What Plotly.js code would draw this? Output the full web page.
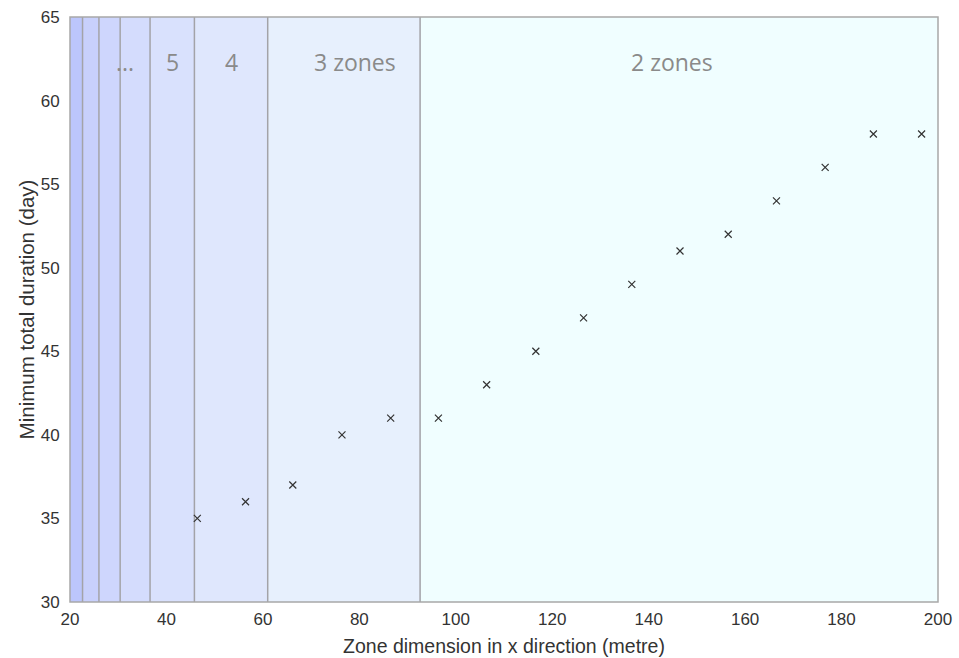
<!DOCTYPE html>
<html>
<head>
<meta charset="utf-8">
<script src="https://cdn.plot.ly/plotly-3.0.1.min.js"></script>
<style>html,body{margin:0;padding:0;background:#fff;}#chart{width:959px;height:658px;}</style>
</head>
<body>
<div id="chart"></div>
<script>
// Data
const zoneDimension = [46.4, 56.4, 66.2, 76.4, 86.5, 96.4, 106.4, 116.6, 126.5, 136.5, 146.5, 156.5, 166.5, 176.6, 186.6, 196.6];
const minDuration   = [35, 36, 37, 40, 41, 41, 43, 45, 47, 49, 51, 52, 54, 56, 58, 58];
const zoneEdges     = [20, 22.6, 26.0, 30.4, 36.6, 45.8, 61.0, 92.6, 200];
const zoneLabels    = ['', '', '', '...', '5', '4', '3 zones', '2 zones'];
const zoneLabelX    = [null, null, null, 31.4, 41.2, 53.4, 79.1, 144.8];
const zoneColors    = ['#bcc6fc', '#c8d0fc', '#ced6fd', '#d4dcfd', '#d9e1fd', '#dfe7fd', '#e7f0fd', '#f0feff'];

const shapes = [];
const annotations = [];
for (let i = 0; i < zoneColors.length; i++) {
  shapes.push({type: 'rect', xref: 'x', yref: 'paper', x0: zoneEdges[i], x1: zoneEdges[i+1], y0: 0, y1: 1,
    fillcolor: zoneColors[i], line: {width: 0}, layer: 'below'});
  if (i > 0) {
    shapes.push({type: 'line', xref: 'x', yref: 'paper', x0: zoneEdges[i], x1: zoneEdges[i], y0: 0, y1: 1,
      line: {color: '#a3a3a8', width: 1.5}, layer: 'below'});
  }
  if (zoneLabels[i]) {
    annotations.push({x: zoneLabelX[i], y: 62.3, xref: 'x', yref: 'y', text: zoneLabels[i], showarrow: false,
      font: {family: 'Open Sans, sans-serif', size: 23, color: '#8a8a8a'}});
  }
}
shapes.push({type: 'rect', xref: 'paper', yref: 'paper', x0: 0, x1: 1, y0: 0, y1: 1,
  line: {color: '#a8a8a8', width: 1.5}, fillcolor: 'rgba(0,0,0,0)', layer: 'above'});

const trace = {
  x: zoneDimension, y: minDuration, type: 'scatter', mode: 'markers',
  marker: {symbol: 'x-thin', size: 7, color: '#333', line: {color: '#333', width: 1.2}},
  hoverinfo: 'x+y'
};

const layout = {
  width: 959, height: 658,
  margin: {l: 70, r: 21, t: 17, b: 56},
  paper_bgcolor: '#fff', plot_bgcolor: '#fff',
  font: {family: 'Liberation Sans, Arial, sans-serif', size: 17, color: '#333'},
  showlegend: false,
  xaxis: {range: [20, 200], tickvals: [20,40,60,80,100,120,140,160,180,200], showgrid: false, zeroline: false,
    showline: false, ticks: 'outside', ticklen: 2, tickcolor: 'rgba(0,0,0,0)', tickfont: {size: 17, color: '#333'},
    title: {text: 'Zone dimension in x direction (metre)', font: {size: 19.5, color: '#333'}, standoff: 10}},
  yaxis: {range: [30, 65], tickvals: [30,35,40,45,50,55,60,65], showgrid: false, zeroline: false,
    showline: false, ticks: 'outside', ticklen: 6, tickcolor: 'rgba(0,0,0,0)', tickfont: {size: 17, color: '#333'},
    title: {text: 'Minimum total duration (day)', font: {size: 20.5, color: '#333'}, standoff: 0}},
  shapes: shapes,
  annotations: annotations
};

Plotly.newPlot('chart', [trace], layout, {displayModeBar: false, staticPlot: true});
</script>
</body>
</html>
